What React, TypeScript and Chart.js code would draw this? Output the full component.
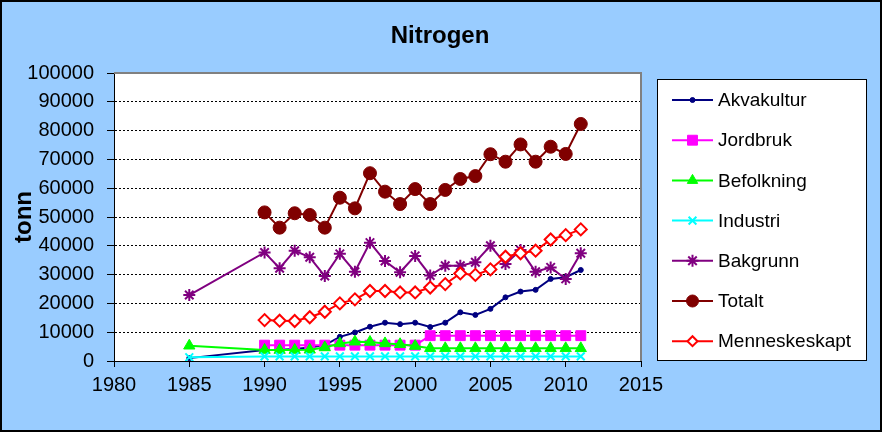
import React, { useEffect, useRef } from 'react';
import { Chart, registerables } from 'chart.js';
import { drawPoint } from 'chart.js/helpers';

Chart.register(...registerables);

const years = [1985, 1990, 1991, 1992, 1993, 1994, 1995, 1996, 1997, 1998, 1999, 2000, 2001, 2002, 2003, 2004, 2005, 2006, 2007, 2008, 2009, 2010, 2011];

const akvakultur = [1000, 3800, 3900, 4200, 4700, 5500, 8400, 9900, 11900, 13300, 12800, 13300, 11800, 13300, 16900, 16000, 18100, 22100, 24100, 24700, 28500, 29100, 31600];
const jordbruk = [null, 5500, 5500, 5500, 5500, 5500, 5500, 5500, 5500, 5500, 5500, 5500, 8800, 8800, 8800, 8800, 8800, 8800, 8800, 8800, 8800, 8800, 8800];
const befolkning = [5300, 3800, 3800, 3800, 3900, 4700, 6100, 6700, 6600, 6100, 5800, 5200, 4400, 4400, 4400, 4400, 4400, 4400, 4400, 4400, 4400, 4400, 4400];
const industri = [1300, 1600, 1600, 1600, 1600, 1600, 1600, 1600, 1600, 1600, 1600, 1600, 1600, 1600, 1600, 1600, 1600, 1600, 1600, 1600, 1600, 1600, 1600];
const bakgrunn = [22900, 37700, 32200, 38300, 36000, 29500, 37200, 31000, 41100, 34700, 30800, 36500, 29700, 33100, 33100, 34300, 40000, 33700, 38500, 31000, 32500, 28500, 37400];
const totalt = [null, 51600, 46300, 51300, 50700, 46300, 56700, 53000, 65200, 58800, 54500, 59700, 54500, 59400, 63200, 64200, 71800, 69200, 75200, 69200, 74400, 71900, 82300];
const menneskeskapt = [null, 14200, 14000, 13900, 15200, 17100, 20000, 21400, 24300, 24300, 23800, 23800, 25500, 26700, 30400, 29900, 31800, 36200, 37400, 38300, 42200, 43700, 45700];

const seriesNames = ['Akvakultur', 'Jordbruk', 'Befolkning', 'Industri', 'Bakgrunn', 'Totalt', 'Menneskeskapt'];
const seriesValues = [akvakultur, jordbruk, befolkning, industri, bakgrunn, totalt, menneskeskapt];

const titleText = 'Nitrogen';
const yTitle = 'tonn';
const xMin = 1980;
const xMax = 2015;
const xStep = 5;
const yMin = 0;
const yMax = 100000;
const yStep = 10000;

const FONT = '"Liberation Sans", Arial, sans-serif';

const styles = [
  { color: '#000080', fill: '#000080', pointStyle: 'circle', radius: 2.5, pbw: 1, legendRadius: 2.5 },
  { color: '#FF00FF', fill: '#FF00FF', pointStyle: 'rect', radius: 7, pbw: 1, legendRadius: 7 },
  { color: '#00FF00', fill: '#00FF00', pointStyle: 'triangle', radius: 6.5, pbw: 1, legendRadius: 6 },
  { color: '#00FFFF', fill: '#00FFFF', pointStyle: 'crossRot', radius: 5.5, pbw: 2, legendRadius: 5.5 },
  { color: '#800080', fill: '#800080', pointStyle: 'star', radius: 6, pbw: 2, legendRadius: 6 },
  { color: '#800000', fill: '#800000', pointStyle: 'circle', radius: 6.5, pbw: 1, legendRadius: 6 },
  { color: '#FF0000', fill: '#FFFFFF', pointStyle: 'rectRot', radius: 6, pbw: 2, legendRadius: 5 },
];

export default function App() {
  const ref = useRef<HTMLCanvasElement>(null);

  useEffect(() => {
    document.body.style.margin = '0';
    const canvas = ref.current!;

    const datasets = seriesNames.map((name, i) => {
      const s = styles[i];
      const vals = seriesValues[i];
      return {
        label: name,
        data: years.map((x, j) => ({ x, y: vals[j] })).filter((p) => p.y !== null),
        borderColor: s.color,
        backgroundColor: s.fill,
        borderWidth: 2,
        pointStyle: s.pointStyle,
        pointRadius: s.radius,
        pointBorderColor: s.color,
        pointBackgroundColor: s.fill,
        pointBorderWidth: s.pbw,
        tension: 0,
        order: seriesNames.length - i,
      };
    });

    const decor = {
      id: 'decor',
      beforeDraw(chart: any) {
        const { ctx, chartArea } = chart;
        ctx.save();
        ctx.fillStyle = '#99CCFF';
        ctx.fillRect(0, 0, chart.width, chart.height);
        ctx.fillStyle = '#FFFFFF';
        ctx.fillRect(chartArea.left, chartArea.top, chartArea.right - chartArea.left, chartArea.bottom - chartArea.top);
        ctx.restore();
      },
      beforeDatasetsDraw(chart: any) {
        const { ctx, chartArea } = chart;
        ctx.save();
        ctx.strokeStyle = '#808080';
        ctx.lineWidth = 2;
        ctx.beginPath();
        ctx.moveTo(chartArea.left, chartArea.top);
        ctx.lineTo(chartArea.right, chartArea.top);
        ctx.lineTo(chartArea.right, chartArea.bottom);
        ctx.stroke();
        ctx.restore();
      },
      afterDraw(chart: any) {
        const { ctx } = chart;
        ctx.save();
        ctx.strokeStyle = '#000000';
        ctx.lineWidth = 2;
        ctx.strokeRect(1, 1, chart.width - 2, chart.height - 2);
        ctx.fillStyle = '#000000';
        ctx.font = `bold 24px ${FONT}`;
        ctx.textAlign = 'center';
        ctx.textBaseline = 'middle';
        ctx.fillText(titleText, 440, 36);
        const lx = 657.5, ly = 79.5, lw = 209, lh = 281;
        ctx.fillStyle = '#FFFFFF';
        ctx.fillRect(lx, ly, lw, lh);
        ctx.strokeStyle = '#000000';
        ctx.lineWidth = 1;
        ctx.strokeRect(lx, ly, lw, lh);
        ctx.font = `19px ${FONT}`;
        ctx.textAlign = 'left';
        ctx.textBaseline = 'middle';
        seriesNames.forEach((name, i) => {
          const s = styles[i];
          const y = 100 + i * 40.2;
          ctx.strokeStyle = s.color;
          ctx.lineWidth = 2;
          ctx.beginPath();
          ctx.moveTo(672, y);
          ctx.lineTo(713, y);
          ctx.stroke();
          ctx.fillStyle = s.fill;
          ctx.strokeStyle = s.color;
          ctx.lineWidth = s.pbw;
          drawPoint(ctx, { pointStyle: s.pointStyle, radius: s.legendRadius, rotation: 0, borderWidth: s.pbw } as any, 692.5, y);
          ctx.fillStyle = '#000000';
          ctx.fillText(name, 718, y + 1);
        });
        ctx.restore();
      },
    };

    const chart = new Chart(canvas, {
      type: 'line',
      data: { datasets: datasets as any },
      options: {
        animation: false,
        responsive: false,
        devicePixelRatio: 1,
        layout: { padding: { left: 0, top: 73, right: 241, bottom: 41 } },
        plugins: { legend: { display: false }, title: { display: false }, tooltip: { enabled: false } },
        scales: {
          x: {
            type: 'linear',
            min: xMin,
            max: xMax,
            afterFit(scale: any) { scale.height = 30; },
            ticks: {
              stepSize: xStep,
              color: '#000000',
              font: { family: FONT, size: 20 },
              padding: 6,
              maxRotation: 0,
              callback: (v: any) => String(v),
            },
            grid: { drawOnChartArea: false, drawTicks: true, tickLength: 6, tickColor: '#000000', tickWidth: 1 },
            border: { color: '#000000', width: 1 },
          },
          y: {
            type: 'linear',
            min: yMin,
            max: yMax,
            afterFit(scale: any) { scale.width = 114; },
            ticks: {
              stepSize: yStep,
              color: '#000000',
              font: { family: FONT, size: 20 },
              padding: 13,
              callback: (v: any) => String(v),
            },
            title: {
              display: true,
              text: yTitle,
              color: '#000000',
              font: { family: FONT, size: 24, weight: 'bold' },
              padding: { top: 10, bottom: 0 },
            },
            grid: {
              color: (c: any) => (c.tick && (c.tick.value === yMax || c.tick.value === yMin) ? 'rgba(0,0,0,0)' : '#000000'),
              lineWidth: 1,
              drawTicks: true,
              tickLength: 7,
              tickColor: '#000000',
              tickWidth: 1,
            },
            border: { color: '#000000', width: 1, dash: [2, 2] },
          },
        },
      } as any,
      plugins: [decor],
    });

    return () => chart.destroy();
  }, []);

  return (
    <div style={{ width: 882, height: 432 }}>
      <canvas ref={ref} width={882} height={432} style={{ display: 'block' }} />
    </div>
  );
}
